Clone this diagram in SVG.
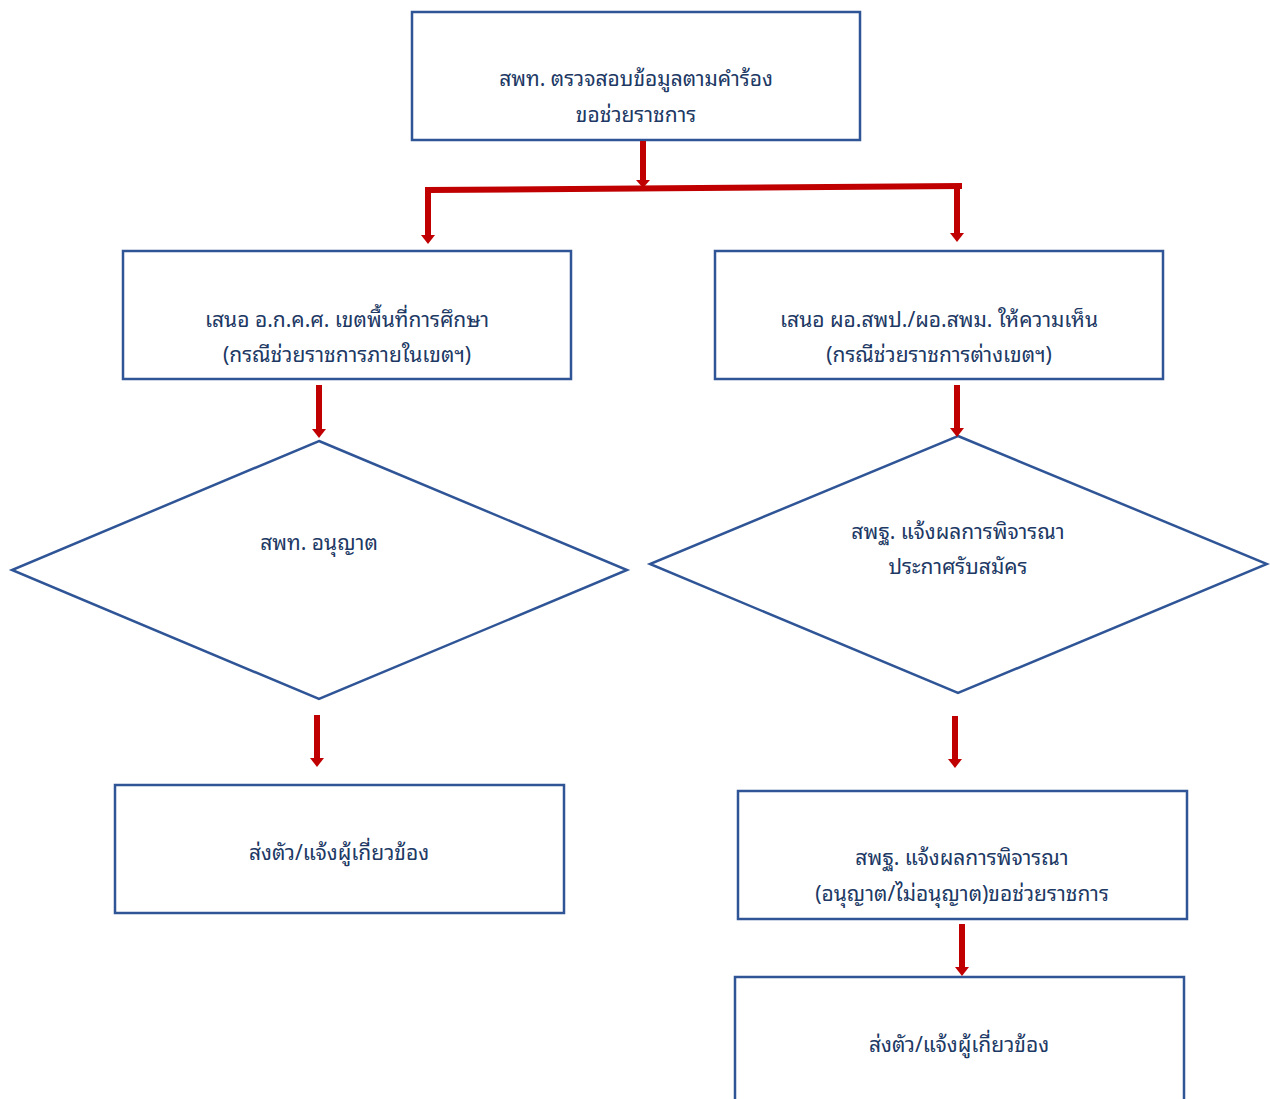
<svg xmlns="http://www.w3.org/2000/svg" width="1270" height="1099" viewBox="0 0 1270 1099">
<style>
.box{fill:#fff;stroke:#2F5597;stroke-width:2.5}
.t{font-family:"Noto Sans Thai Looped","Loma","Garuda","Noto Sans","Noto Sans Thai","Liberation Sans",sans-serif;font-size:21px;fill:#203864;text-anchor:middle}
.c{stroke:#C00000;stroke-width:6;fill:none}
.h{fill:#C00000}
</style>
<rect width="1270" height="1099" fill="#fff"/>
<g id="n1"><rect class="box" x="412" y="12" width="448" height="128"/><text class="t" x="636" y="86">สพท. ตรวจสอบข้อมูลตามคำร้อง</text><text class="t" x="636" y="122">ขอช่วยราชการ</text></g>
<g id="n2"><rect class="box" x="123" y="251" width="448" height="128"/><text class="t" x="347" y="327">เสนอ อ.ก.ค.ศ. เขตพื้นที่การศึกษา</text><text class="t" x="347" y="362">(กรณีช่วยราชการภายในเขตฯ)</text></g>
<g id="n3"><rect class="box" x="715" y="251" width="448" height="128"/><text class="t" x="939" y="327">เสนอ ผอ.สพป./ผอ.สพม. ให้ความเห็น</text><text class="t" x="939" y="362">(กรณีช่วยราชการต่างเขตฯ)</text></g>
<g id="n4"><polygon class="box" points="319,441 627,570 319,699 12,570"/><text class="t" x="319" y="550">สพท. อนุญาต</text></g>
<g id="n5"><polygon class="box" points="958,436 1267,564 958,693 650,564"/><text class="t" x="958" y="539">สพฐ. แจ้งผลการพิจารณา</text><text class="t" x="958" y="574">ประกาศรับสมัคร</text></g>
<g id="n6"><rect class="box" x="115" y="785" width="449" height="128"/><text class="t" x="339" y="860">ส่งตัว/แจ้งผู้เกี่ยวข้อง</text></g>
<g id="n7"><rect class="box" x="738" y="791" width="449" height="128"/><text class="t" x="962" y="865">สพฐ. แจ้งผลการพิจารณา</text><text class="t" x="962" y="901">(อนุญาต/ไม่อนุญาต)ขอช่วยราชการ</text></g>
<g id="n8"><rect class="box" x="735" y="977" width="449" height="140"/><text class="t" x="959" y="1052">ส่งตัว/แจ้งผู้เกี่ยวข้อง</text></g>
<g id="connectors">
<line class="c" x1="643" y1="141" x2="643" y2="180"/>
<polygon class="h" points="636,180 650,180 643,188"/>
<polyline class="c" points="428,236 428,190 962,186"/>
<polygon class="h" points="421,235 435,235 428,244"/>
<line class="c" x1="957" y1="187" x2="957" y2="233"/>
<polygon class="h" points="950,233 964,233 957,242"/>
<line class="c" x1="319" y1="385" x2="319" y2="429"/>
<polygon class="h" points="312,429 326,429 319,438"/>
<line class="c" x1="957" y1="385" x2="957" y2="428"/>
<polygon class="h" points="950,428 964,428 957,437"/>
<line class="c" x1="317" y1="715" x2="317" y2="758"/>
<polygon class="h" points="310,758 324,758 317,767"/>
<line class="c" x1="955" y1="716" x2="955" y2="759"/>
<polygon class="h" points="948,759 962,759 955,768"/>
<line class="c" x1="962" y1="924" x2="962" y2="967"/>
<polygon class="h" points="955,967 969,967 962,976"/>
</g>
</svg>
